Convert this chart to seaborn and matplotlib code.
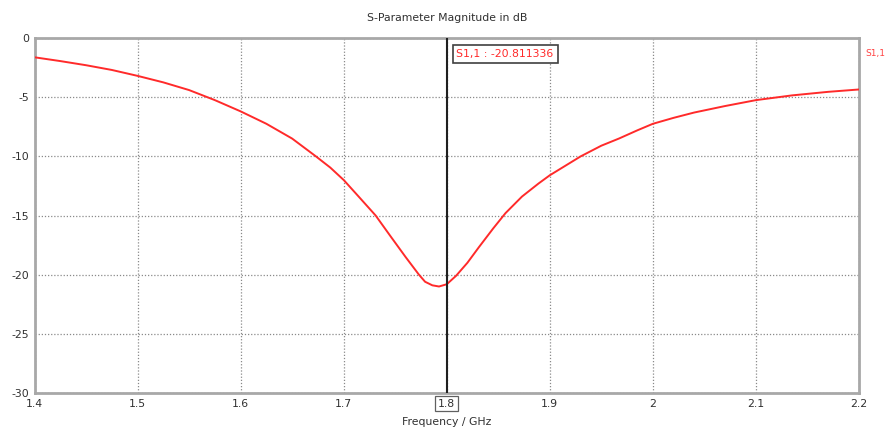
import matplotlib
matplotlib.use("Agg")
import matplotlib.pyplot as plt
import seaborn as sns
import pandas as pd

freq_ghz = [1.40, 1.425, 1.45, 1.475, 1.50, 1.525, 1.55, 1.575, 1.60, 1.625, 1.65,
            1.673, 1.687, 1.70, 1.714, 1.731, 1.745, 1.76, 1.773, 1.779, 1.786, 1.7925,
            1.80, 1.809, 1.82, 1.831, 1.845, 1.857, 1.873, 1.889, 1.90, 1.915,
            1.93, 1.95, 1.967, 1.985, 2.00, 2.02, 2.04, 2.07, 2.10, 2.135, 2.17, 2.20]
s11_db = [-1.63, -1.95, -2.3, -2.7, -3.2, -3.75, -4.4, -5.25, -6.2, -7.25, -8.5,
          -10.0, -10.95, -12.0, -13.35, -15.0, -16.7, -18.5, -20.0, -20.6, -20.9, -21.0,
          -20.81, -20.1, -19.0, -17.7, -16.1, -14.8, -13.4, -12.3, -11.6, -10.8,
          -10.0, -9.1, -8.5, -7.8, -7.25, -6.75, -6.3, -5.75, -5.25, -4.85, -4.55, -4.35]
x_ticks = [1.4, 1.5, 1.6, 1.7, 1.8, 1.9, 2.0, 2.1, 2.2]
x_tick_labels = ["1.4", "1.5", "1.6", "1.7", "1.8", "1.9", "2", "2.1", "2.2"]
y_ticks = [0, -5, -10, -15, -20, -25, -30]
y_tick_labels = ["0", "-5", "-10", "-15", "-20", "-25", "-30"]
marker_freq = 1.8
marker_label = "S1,1 : -20.811336"
series_name = "S1,1"

df = pd.DataFrame({"Frequency / GHz": freq_ghz, series_name: s11_db})

sns.set_style("white")
plt.rcParams["font.family"] = ["DejaVu Sans"]
plt.rcParams["axes.unicode_minus"] = False

fig = plt.figure(figsize=(8.88, 4.37), dpi=100)
ax = fig.add_axes([34.5 / 888, 1 - 393 / 437, (859 - 34.5) / 888, (393 - 38) / 437])

sns.lineplot(data=df, x="Frequency / GHz", y=series_name, ax=ax,
             color="#ff2a2a", linewidth=1.4, zorder=3)

ax.set_xlim(1.4, 2.2)
ax.set_ylim(-30, 0)
ax.set_xticks(x_ticks)
ax.set_xticklabels(x_tick_labels)
ax.set_yticks(y_ticks)
ax.set_yticklabels(y_tick_labels)
ax.tick_params(axis="both", direction="out", length=3, width=1, color="#909090",
               labelsize=7.8, labelcolor="#303030", pad=1)

ax.grid(True, which="major", linestyle=(0, (1, 1.5)), color="#8a8a8a", linewidth=0.9)
for sp in ax.spines.values():
    sp.set_color("#a8a8a8")
    sp.set_linewidth(2)

ax.set_xlabel("Frequency / GHz", fontsize=7.8, color="#303030", labelpad=6)
ax.set_ylabel("")
ax.set_title("S-Parameter Magnitude in dB", fontsize=7.8, color="#303030", pad=12)

# marker line
ax.axvline(marker_freq, color="#202020", linewidth=1.5, zorder=4)
ax.annotate(marker_label, xy=(marker_freq, 1.0), xycoords=("data", "axes fraction"),
            xytext=(7, -8), textcoords="offset points", ha="left", va="top",
            fontsize=7.8, color="#ff2a2a",
            bbox=dict(boxstyle="square,pad=0.35", fc="white", ec="#404040", lw=1.2),
            zorder=5)

# boxed tick label at marker
for lbl, t in zip(ax.get_xticklabels(), x_ticks):
    if abs(t - marker_freq) < 1e-9:
        lbl.set_bbox(dict(boxstyle="square,pad=0.25", fc="white", ec="#606060", lw=0.9))

# legend text at right
ax.text(1.008, 0.97, series_name, transform=ax.transAxes, fontsize=6.5,
        color="#ff4040", ha="left", va="top")

fig.savefig("out.png", dpi=100)
